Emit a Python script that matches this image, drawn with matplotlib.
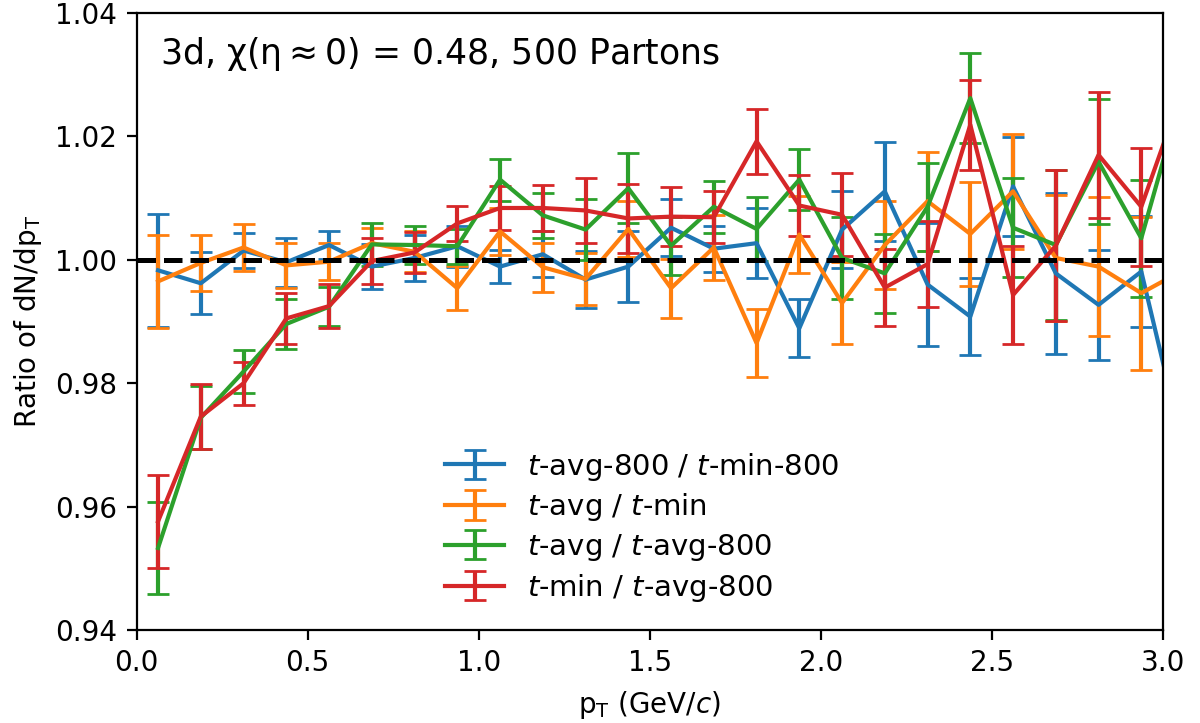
import matplotlib
matplotlib.use("Agg")
import matplotlib.pyplot as plt

pt = [0.0625, 0.1875, 0.3125, 0.4375, 0.5625, 0.6875, 0.8125, 0.9375,
      1.0625, 1.1875, 1.3125, 1.4375, 1.5625, 1.6875, 1.8125, 1.9375,
      2.0625, 2.1875, 2.3125, 2.4375, 2.5625, 2.6875, 2.8125, 2.9375, 3.0625]

blue_y = [0.9983, 0.9962, 1.0015, 0.9996, 1.0024, 0.9989, 1.0003, 1.0022,
          0.9989, 1.0009, 0.9968, 0.9989, 1.0052, 1.0018, 1.0027, 0.9889,
          1.0049, 1.0111, 0.9960, 0.9908, 1.0119, 0.9978, 0.9927, 0.9981, 0.9690]
blue_e = [0.0092, 0.0050, 0.0029, 0.0040, 0.0023, 0.0037, 0.0037, 0.0033,
          0.0027, 0.0037, 0.0046, 0.0057, 0.0046, 0.0037, 0.0057, 0.0047,
          0.0063, 0.0080, 0.0100, 0.0063, 0.0080, 0.0130, 0.0089, 0.0090, 0.0100]

orange_y = [0.9965, 0.9995, 1.0020, 0.9991, 0.9997, 1.0027, 1.0013, 0.9954,
            1.0046, 0.9988, 0.9969, 1.0050, 0.9954, 1.0020, 0.9865, 1.0041,
            0.9930, 1.0024, 1.0095, 1.0042, 1.0111, 1.0003, 0.9989, 0.9946, 0.9984]
orange_e = [0.0075, 0.0045, 0.0038, 0.0036, 0.0030, 0.0025, 0.0033, 0.0036,
            0.0038, 0.0040, 0.0042, 0.0045, 0.0048, 0.0052, 0.0055, 0.0062,
            0.0067, 0.0072, 0.0080, 0.0084, 0.0093, 0.0102, 0.0112, 0.0124, 0.0130]

green_y = [0.9533, 0.9744, 0.9819, 0.9896, 0.9924, 1.0025, 1.0024, 1.0022,
           1.0130, 1.0072, 1.0049, 1.0116, 1.0023, 1.0086, 1.0050, 1.0130,
           1.0003, 0.9978, 1.0086, 1.0262, 1.0052, 1.0024, 1.0159, 1.0035, 1.0280]
green_e = [0.0075, 0.0051, 0.0035, 0.0041, 0.0032, 0.0035, 0.0031, 0.0028,
           0.0034, 0.0036, 0.0050, 0.0057, 0.0047, 0.0042, 0.0052, 0.0050,
           0.0066, 0.0064, 0.0071, 0.0073, 0.0080, 0.0122, 0.0101, 0.0095, 0.0110]

red_y = [0.9576, 0.9746, 0.9800, 0.9905, 0.9925, 0.9998, 1.0012, 1.0059,
         1.0084, 1.0084, 1.0080, 1.0067, 1.0070, 1.0069, 1.0192, 1.0088,
         1.0073, 0.9955, 0.9993, 1.0219, 0.9943, 1.0023, 1.0170, 1.0086, 1.0282]
red_e = [0.0075, 0.0052, 0.0035, 0.0041, 0.0035, 0.0037, 0.0033, 0.0028,
         0.0035, 0.0037, 0.0052, 0.0056, 0.0048, 0.0042, 0.0053, 0.0049,
         0.0067, 0.0063, 0.0070, 0.0073, 0.0080, 0.0122, 0.0102, 0.0096, 0.0110]

labels = [r"$t$-avg-800 / $t$-min-800", r"$t$-avg / $t$-min",
          r"$t$-avg / $t$-avg-800", r"$t$-min / $t$-avg-800"]
colors = ["#1f77b4", "#ff7f0e", "#2ca02c", "#d62728"]

fig = plt.figure(figsize=(6, 3.615), dpi=200)
ax = fig.add_axes([0.1139, 0.1286, 0.855, 0.8534])

for y, e, lab, c in zip([blue_y, orange_y, green_y, red_y],
                        [blue_e, orange_e, green_e, red_e], labels, colors):
    ax.errorbar(pt, y, yerr=e, color=c, capsize=4, lw=1.5, label=lab)

ax.axhline(1.0, color="k", ls="--", lw=1.8, zorder=5)

ax.set_xlim(0, 3.0)
ax.set_ylim(0.94, 1.04)
ax.set_xticks([0.0, 0.5, 1.0, 1.5, 2.0, 2.5, 3.0])
ax.set_yticks([0.94, 0.96, 0.98, 1.00, 1.02, 1.04])
ax.set_xlabel(r"p$_\mathrm{T}$ (GeV/$c$)")
ax.set_ylabel(r"Ratio of dN/dp$_\mathrm{T}$")
ax.text(0.023, 0.934, r"3d, $\mathrm{\chi(\eta\approx 0)}$ = 0.48, 500 Partons",
        transform=ax.transAxes, fontsize=12.5, va="center", ha="left")
ax.legend(loc="lower center", bbox_to_anchor=(0.493, 0.0), frameon=False,
          fontsize=10.5, labelspacing=0.3)

fig.savefig("out.png", dpi=200)
